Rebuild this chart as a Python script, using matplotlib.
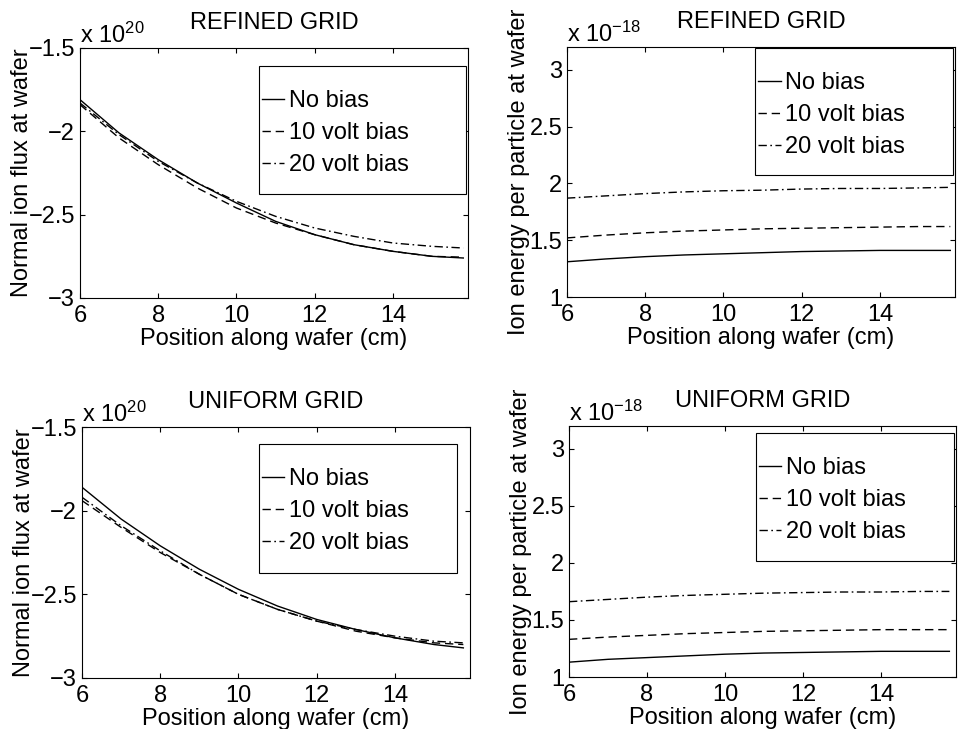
import matplotlib
matplotlib.use("Agg")
import matplotlib.pyplot as plt
from matplotlib.patches import Rectangle
from matplotlib.ticker import FuncFormatter

plt.rcParams['font.family'] = ['Liberation Sans', 'DejaVu Sans']
plt.rcParams['mathtext.fontset'] = 'custom'
plt.rcParams['mathtext.rm'] = 'Liberation Sans'
plt.rcParams['mathtext.default'] = 'regular'
plt.rcParams['lines.scale_dashes'] = False

# positions along wafer (cm)
x_ref = [6, 7, 8, 9, 10, 11, 12, 13, 14, 15, 15.8]
x_uni = [6, 7, 8, 9, 10, 11, 12, 13, 14, 15, 15.75]

# normal ion flux, x 1e20
flux_ref_0 = [-1.81, -2.01, -2.17, -2.31, -2.43, -2.54, -2.62, -2.68, -2.72, -2.75, -2.76]
flux_ref_10 = [-1.84, -2.04, -2.20, -2.34, -2.46, -2.55, -2.62, -2.68, -2.72, -2.75, -2.755]
flux_ref_20 = [-1.83, -2.02, -2.18, -2.31, -2.42, -2.51, -2.58, -2.63, -2.67, -2.69, -2.70]

flux_uni_0 = [-1.86, -2.05, -2.21, -2.35, -2.47, -2.57, -2.65, -2.71, -2.76, -2.80, -2.82]
flux_uni_10 = [-1.94, -2.10, -2.25, -2.38, -2.50, -2.59, -2.66, -2.72, -2.76, -2.79, -2.80]
flux_uni_20 = [-1.92, -2.09, -2.24, -2.38, -2.50, -2.59, -2.66, -2.71, -2.75, -2.78, -2.79]

# ion energy per particle, x 1e-18
en_ref_0 = [1.31, 1.335, 1.355, 1.37, 1.38, 1.39, 1.40, 1.405, 1.41, 1.41, 1.41]
en_ref_10 = [1.52, 1.545, 1.565, 1.58, 1.59, 1.60, 1.605, 1.61, 1.615, 1.62, 1.62]
en_ref_20 = [1.87, 1.89, 1.91, 1.925, 1.935, 1.94, 1.95, 1.955, 1.955, 1.96, 1.965]

en_uni_0 = [1.13, 1.155, 1.17, 1.185, 1.20, 1.21, 1.215, 1.22, 1.225, 1.225, 1.225]
en_uni_10 = [1.33, 1.35, 1.365, 1.38, 1.39, 1.40, 1.405, 1.41, 1.415, 1.415, 1.415]
en_uni_20 = [1.66, 1.68, 1.70, 1.715, 1.725, 1.735, 1.74, 1.745, 1.745, 1.75, 1.75]

labels = ["No bias", "10 volt bias", "20 volt bias"]
styles = ['-', (0, (6, 3.5)), (0, (6, 2.5, 1.2, 2.5))]

FS = 17
W, H = 963, 729
fig = plt.figure(figsize=(W / 100, H / 100), dpi=100)


def fmt(v, pos):
    return ('%g' % v).replace('-', '\u2212')


def panel(rect_px, x, series, ylim, yticks, ylabel, title, expo, box, lpad):
    l, t, r, b = rect_px
    ax = fig.add_axes([l / W, 1 - b / H, (r - l) / W, (b - t) / H])
    for ys, ls in zip(series, styles):
        ax.plot(x, ys, color='black', lw=1.0, linestyle=ls)
    ax.set_xlim(6, 15.92)
    ax.set_ylim(*ylim)
    ax.set_xticks([6, 8, 10, 12, 14])
    ax.set_yticks(yticks)
    ax.yaxis.set_major_formatter(FuncFormatter(fmt))
    ax.tick_params(direction='in', length=3.5, width=0.8, top=True, right=True,
                   labelsize=FS)
    ax.tick_params(axis='x', pad=5)
    ax.tick_params(axis='y', pad=3.5)
    for s in ax.spines.values():
        s.set_linewidth(0.8)
    ax.set_xlabel("Position along wafer (cm)", fontsize=FS, labelpad=1)
    ax.set_ylabel(ylabel, fontsize=FS, labelpad=lpad)
    ax.set_title(title, fontsize=FS, pad=14)
    ax.text(0, 1 + 5 / (b - t), expo, transform=ax.transAxes, fontsize=FS,
            ha='left', va='baseline')

    # legend box (MATLAB style)
    bx0, bx1, by0, by1 = box
    ax.add_patch(Rectangle((bx0, by0), bx1 - bx0, by1 - by0, transform=ax.transAxes,
                           facecolor='white', edgecolor='black', lw=0.8, zorder=5))
    w_ax = r - l
    h_ax = b - t
    by_mid = by1 - 67 / h_ax
    leg = ax.legend(labels, loc='center left', bbox_to_anchor=(bx0 + 3 / w_ax, by_mid),
                    frameon=False, fontsize=FS, handlelength=0.95, handletextpad=0.2,
                    labelspacing=0.42, borderpad=0, borderaxespad=0)
    leg.set_zorder(6)
    return ax


panel((80, 48, 468, 298), x_ref, [flux_ref_0, flux_ref_10, flux_ref_20],
      (-3, -1.5), [-3, -2.5, -2, -1.5], "Normal ion flux at wafer", "REFINED GRID",
      "x 10$^{20}$", (0.461, 0.995, 0.416, 0.928), -3)
panel((567, 47, 955, 297), x_ref, [en_ref_0, en_ref_10, en_ref_20],
      (1, 3.2), [1, 1.5, 2, 2.5, 3], "Ion energy per particle at wafer", "REFINED GRID",
      "x 10$^{\u221218}$", (0.485, 0.995, 0.488, 0.996), -0.5)
panel((82, 427, 470, 678), x_uni, [flux_uni_0, flux_uni_10, flux_uni_20],
      (-3, -1.5), [-3, -2.5, -2, -1.5], "Normal ion flux at wafer", "UNIFORM GRID",
      "x 10$^{20}$", (0.456, 0.966, 0.418, 0.932), -3)
panel((569, 426, 956, 677), x_uni, [en_uni_0, en_uni_10, en_uni_20],
      (1, 3.2), [1, 1.5, 2, 2.5, 3], "Ion energy per particle at wafer", "UNIFORM GRID",
      "x 10$^{\u221218}$", (0.483, 0.995, 0.462, 0.972), -0.5)

fig.savefig("out.png", dpi=100)
